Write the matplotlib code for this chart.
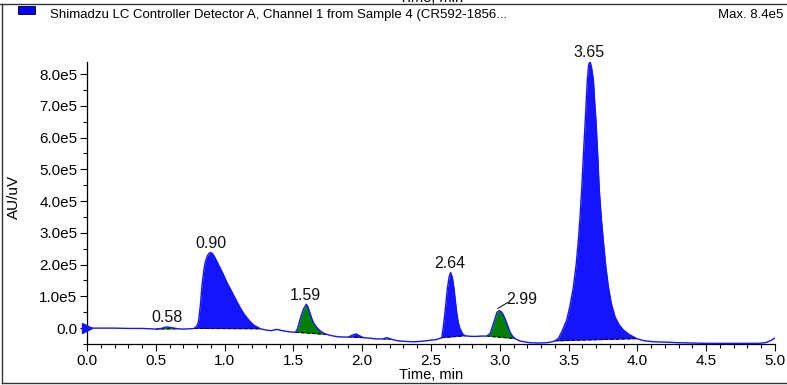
import numpy as np
import matplotlib
matplotlib.use("Agg")
import matplotlib.pyplot as plt
from matplotlib.ticker import MultipleLocator, FuncFormatter
from matplotlib.patches import Rectangle
from matplotlib.lines import Line2D

plt.rcParams['font.family'] = ['Liberation Sans', 'DejaVu Sans']

# chromatogram trace (time in min, signal in 1e5 AU/uV)
time_min = [
    0.0, 0.1, 0.2, 0.3, 0.4, 0.5, 0.54, 0.58, 0.62, 0.66, 0.7, 0.75, 0.78,
    0.80, 0.81, 0.824, 0.836, 0.85, 0.86, 0.875, 0.89, 0.90, 0.915, 0.93,
    0.945, 0.97, 0.993, 1.015, 1.04, 1.065, 1.09, 1.115, 1.139, 1.165,
    1.187, 1.21, 1.235, 1.26, 1.3, 1.34, 1.38, 1.42, 1.46, 1.5, 1.515,
    1.53, 1.55, 1.565, 1.575, 1.594, 1.605, 1.618, 1.632, 1.648, 1.67,
    1.695, 1.72, 1.744, 1.78, 1.82, 1.86, 1.9, 1.93, 1.955, 1.98, 2.01,
    2.06, 2.1, 2.15, 2.18, 2.21, 2.26, 2.32, 2.37, 2.42, 2.48, 2.54,
    2.578, 2.59, 2.602, 2.619, 2.632, 2.643, 2.655, 2.667, 2.686, 2.698,
    2.71, 2.73, 2.747, 2.79, 2.83, 2.87, 2.905, 2.93, 2.95, 2.965, 2.98,
    2.995, 3.01, 3.025, 3.038, 3.055, 3.074, 3.09, 3.11, 3.15, 3.22, 3.28,
    3.34, 3.38, 3.40, 3.425, 3.45, 3.486, 3.51, 3.535, 3.555, 3.571,
    3.583, 3.595, 3.607, 3.62, 3.636, 3.646, 3.655, 3.665, 3.68, 3.69,
    3.70, 3.712, 3.723, 3.737, 3.752, 3.77, 3.789, 3.81, 3.837, 3.865,
    3.898, 3.94, 3.995, 4.05, 4.12, 4.2, 4.3, 4.4, 4.5, 4.6, 4.7, 4.8,
    4.88, 4.93, 4.97, 5.0,
]
signal_e5 = [
    0.0, 0.0, 0.0, -0.01, -0.01, -0.03, -0.01, 0.04, 0.01, -0.02, -0.03,
    -0.02, -0.01, 0.08, 0.2, 0.72, 1.35, 1.85, 2.09, 2.28, 2.37, 2.38,
    2.33, 2.22, 2.09, 1.88, 1.67, 1.45, 1.25, 1.04, 0.83, 0.63, 0.46,
    0.31, 0.2, 0.1, 0.04, -0.02, -0.06, -0.08, -0.04, -0.08, -0.11,
    -0.13, -0.13, -0.02, 0.3, 0.5, 0.62, 0.75, 0.68, 0.51, 0.32, 0.15,
    0.02, -0.09, -0.16, -0.2, -0.24, -0.27, -0.28, -0.28, -0.22, -0.18,
    -0.24, -0.3, -0.32, -0.34, -0.34, -0.3, -0.35, -0.4, -0.42, -0.43,
    -0.42, -0.39, -0.36, -0.3, 0.05, 0.51, 1.25, 1.62, 1.75, 1.6, 1.25,
    0.51, 0.18, -0.01, -0.18, -0.24, -0.26, -0.26, -0.25, -0.25, -0.17,
    0.1, 0.3, 0.5, 0.55, 0.52, 0.42, 0.3, 0.1, -0.12, -0.24, -0.33,
    -0.41, -0.46, -0.47, -0.46, -0.43, -0.4, -0.33, -0.12, 0.25, 0.7,
    1.3, 2.0, 2.77, 3.5, 4.35, 5.4, 6.45, 7.81, 8.3, 8.39, 8.25, 7.81,
    7.1, 6.45, 5.4, 4.35, 3.5, 2.77, 1.95, 1.3, 0.78, 0.36, 0.12, -0.06,
    -0.2, -0.33, -0.4, -0.43, -0.44, -0.46, -0.47, -0.48, -0.48, -0.48,
    -0.48, -0.48, -0.46, -0.39, -0.31,
]

# integrated peaks: start, end, colour
peak_start = [0.50, 0.78, 1.515, 1.90, 2.15, 2.578, 2.905, 3.40]
peak_end = [0.66, 1.26, 1.744, 2.01, 2.21, 2.747, 3.11, 3.995]
peak_color = ['green', 'blue', 'green', 'blue', 'green', 'blue', 'green', 'blue']

# retention time labels
label_rt = [0.58, 0.90, 1.59, 2.64, 3.65]
label_top = [0.04, 2.38, 0.75, 1.75, 8.39]

BLUE = '#1414ff'
GREEN = '#007f00'
FS_TICK = 11
FS_PEAK = 11.5

t = np.array(time_min)
v = np.array(signal_e5) * 1e5

fig = plt.figure(figsize=(7.87, 3.85), dpi=100)
ax = fig.add_axes([87 / 787, 1 - 344 / 385, (775 - 87) / 787, (344 - 62) / 385])

for s, e, c in zip(peak_start, peak_end, peak_color):
    m = (t >= s) & (t <= e)
    vs, ve = np.interp([s, e], t, v)
    base = vs + (ve - vs) * (t[m] - s) / (e - s)
    col = BLUE if c == 'blue' else GREEN
    ax.fill_between(t[m], base, v[m], where=v[m] >= base, interpolate=True,
                    color=col, lw=0, zorder=2)
    ax.plot([s, e], [vs, ve], color='black', lw=0.8, ls=(0, (3, 2)), zorder=3)

ax.plot(t, v, color=BLUE, lw=1.0, zorder=4)
ax.plot([0], [0], marker='>', color=BLUE, markersize=7, clip_on=False, zorder=5)

for rt, top in zip(label_rt, label_top):
    ax.annotate('%.2f' % rt, (rt, top * 1e5), xytext=(0, 1.0),
                textcoords='offset points', ha='center', va='bottom',
                fontsize=FS_PEAK, color='#111111')

# 2.99 has a leader line
ax.plot([2.985, 3.055], [0.62e5, 0.80e5], color='black', lw=0.7)
ax.text(3.05, 0.90e5, '2.99', ha='left', va='center', fontsize=FS_PEAK,
        color='#111111')

ax.set_xlim(0, 5.0)
ax.set_ylim(-0.5e5, 8.38e5)
ax.xaxis.set_major_locator(MultipleLocator(0.5))
ax.xaxis.set_minor_locator(MultipleLocator(0.1))
ax.yaxis.set_minor_locator(MultipleLocator(0.5e5))
ax.set_yticks([0, 1e5, 2e5, 3e5, 4e5, 5e5, 6e5, 7e5, 8e5])
ax.xaxis.set_major_formatter(FuncFormatter(lambda x, p: '%.1f' % x))
ax.yaxis.set_major_formatter(FuncFormatter(
    lambda y, p: '0.0' if abs(y) < 1 else '%.1fe5' % (y / 1e5)))
ax.tick_params(which='major', length=5, width=0.8, labelsize=FS_TICK, pad=2)
ax.tick_params(which='minor', length=3, width=0.8)
for sp in ['top', 'right']:
    ax.spines[sp].set_visible(False)
for sp in ['left', 'bottom']:
    ax.spines[sp].set_linewidth(0.9)
ax.set_xlabel('Time, min', fontsize=10.5, labelpad=0)

fig.text(14 / 787, 1 - 197 / 385, 'AU/uV', rotation=90, ha='center', va='center',
         fontsize=11)

# header
fig.patches.append(Rectangle((18 / 787, 1 - 14 / 385), 17 / 787, 8 / 385,
                             transform=fig.transFigure, facecolor='blue',
                             edgecolor='black', lw=0.6))
fig.text(50 / 787, 1 - 15 / 385,
         'Shimadzu LC Controller Detector A, Channel 1 from Sample 4 (CR592-1856...',
         ha='left', va='center', fontsize=9.5)
fig.text(783 / 787, 1 - 15 / 385, 'Max. 8.4e5', ha='right', va='center', fontsize=9.5)
# cut-off x label of the panel above
fig.text(431 / 787, 1 + 2 / 385, 'Time, min', ha='center', va='center', fontsize=10.5)

# frame lines
fig.lines.append(Line2D([0, 1], [1 - 4 / 385] * 2, transform=fig.transFigure,
                        color='#333333', lw=1.0))
fig.lines.append(Line2D([2 / 787] * 2, [1 - 4 / 385, 1 - 383 / 385],
                        transform=fig.transFigure, color='#333333', lw=1.0))
fig.lines.append(Line2D([2 / 787, 1], [1 - 383 / 385] * 2, transform=fig.transFigure,
                        color='#333333', lw=1.0))

fig.savefig('out.png', dpi=100)
